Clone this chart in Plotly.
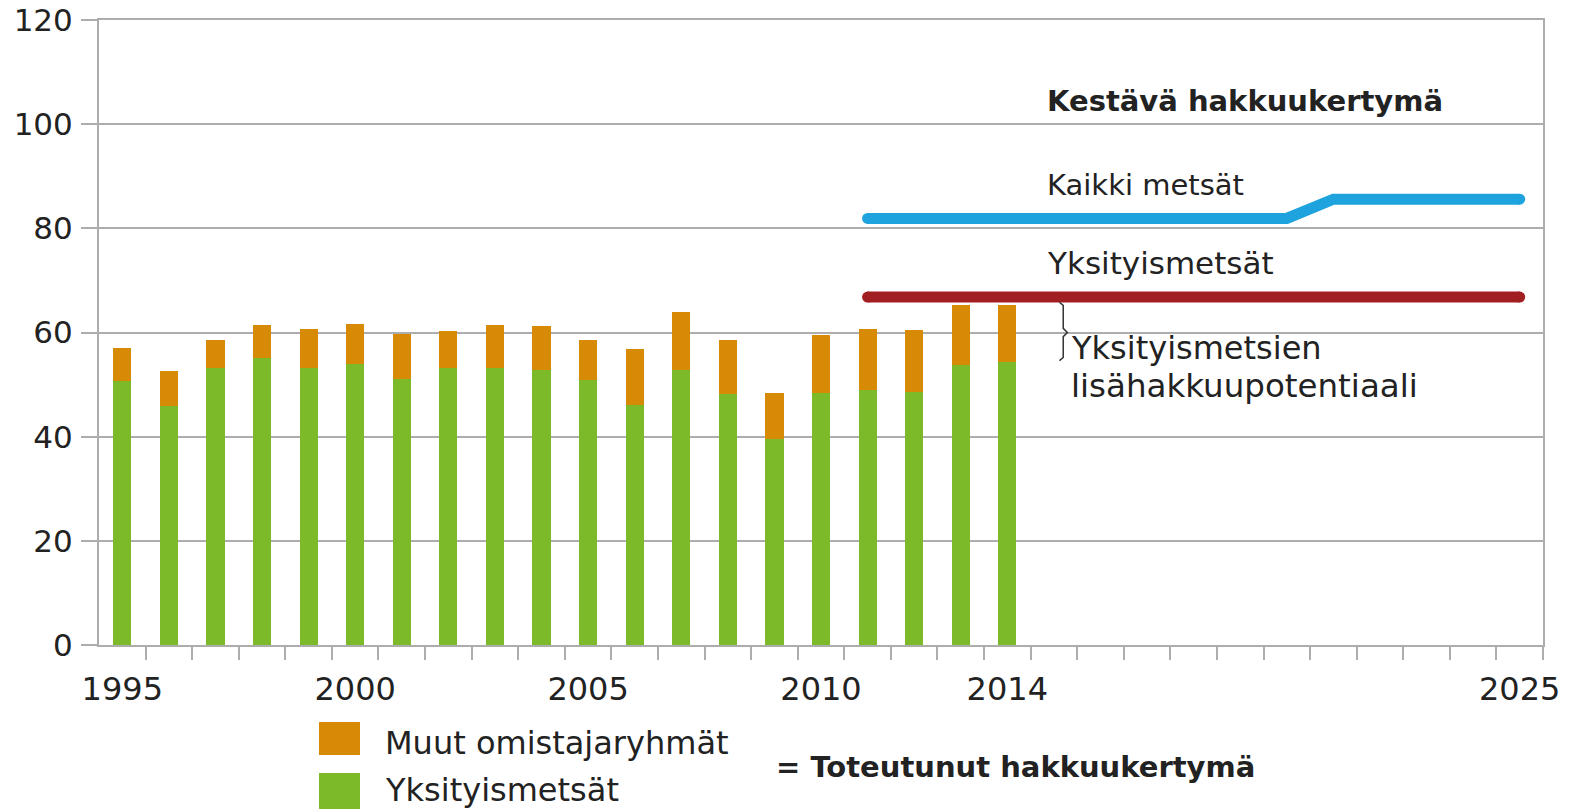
import plotly.graph_objects as go

# ---- data ----
years = list(range(1995, 2015))
yksityis = [50.7, 45.8, 53.2, 55.1, 53.2, 54.0, 51.1, 53.2, 53.2, 52.8,
            50.9, 46.0, 52.8, 48.2, 39.6, 48.3, 48.9, 48.5, 53.8, 54.4]
totals = [57.1, 52.6, 58.6, 61.4, 60.6, 61.7, 59.8, 60.2, 61.4, 61.2,
          58.6, 56.9, 63.9, 58.6, 48.3, 59.6, 60.6, 60.4, 65.2, 65.2]
muut = [round(t - g, 1) for t, g in zip(totals, yksityis)]

line_years = list(range(2011, 2026))
kaikki_kestava = [81.9] * 10 + [85.6] * 5
yksityis_kestava = [66.8] * 15

tick_vals = [1995, 2000, 2005, 2010, 2014, 2025]
tick_text = ["1995", "2000", "2005", "2010", "2014", "2025"]

GREEN = "#7CBA29"
ORANGE = "#D68A05"
BLUE = "#1EA3DE"
RED = "#A11E22"
GRID = "#ADADAD"
TXT = "#222222"
FONT = "DejaVu Sans"

W, H = 1590, 809          # window
L, R, T, B = 99, 1543, 20, 645   # plot area in window pixels
LW = 11


def px(xp):
    return (xp - L) / (R - L)


def py(yp):
    return (B - yp) / (B - T)


def cap_sizes(n):
    # round line caps: a dot only at both ends
    return [LW] + [0] * (n - 2) + [LW]


fig = go.Figure()
fig.add_trace(go.Bar(x=years, y=yksityis, name="Yksityismetsät",
                     marker=dict(color=GREEN, line=dict(width=0)), width=0.39))
fig.add_trace(go.Bar(x=years, y=muut, name="Muut omistajaryhmät",
                     marker=dict(color=ORANGE, line=dict(width=0)), width=0.39))
fig.add_trace(go.Scatter(x=line_years, y=kaikki_kestava, mode="lines+markers",
                         line=dict(color=BLUE, width=LW),
                         marker=dict(color=BLUE, opacity=1, size=cap_sizes(len(line_years)),
                                     line=dict(width=0)),
                         name="Kaikki metsät"))
fig.add_trace(go.Scatter(x=line_years, y=yksityis_kestava, mode="lines+markers",
                         line=dict(color=RED, width=LW),
                         marker=dict(color=RED, opacity=1, size=cap_sizes(len(line_years)),
                                     line=dict(width=0)),
                         name="Yksityismetsät (kestävä)"))

fig.update_layout(
    width=W, height=H,
    margin=dict(l=L, r=W - R, t=T, b=H - B, pad=0),
    barmode="stack",
    showlegend=False,
    hovermode=False,
    plot_bgcolor="white",
    paper_bgcolor="white",
    font=dict(family=FONT, color=TXT, size=28),
)

fig.update_xaxes(
    range=[1994.5, 2025.5], automargin=False,
    tickmode="array", tickvals=tick_vals, ticktext=tick_text,
    ticks="", showgrid=False,
    showline=True, linecolor=GRID, linewidth=2, mirror=True,
    tickfont=dict(size=32, family=FONT, color=TXT),
    ticklabelstandoff=15, ticklabeloverflow="allow",
    minor=dict(ticks="outside", ticklen=13, tickwidth=2, tickcolor=GRID,
               tickmode="array", tickvals=[y + 0.5 for y in range(1995, 2026)],
               showgrid=False),
    zeroline=False,
)
fig.update_yaxes(
    range=[0, 120], dtick=20, automargin=False,
    ticks="outside", ticklen=16, tickwidth=2, tickcolor=GRID,
    showgrid=True, gridcolor=GRID, gridwidth=2,
    showline=True, linecolor=GRID, linewidth=2, mirror=True,
    tickfont=dict(size=31, family=FONT, color=TXT),
    ticklabelstandoff=2, ticklabeloverflow="allow",
    zeroline=False,
)

ann = [
    dict(text="<b>Kestävä hakkuukertymä</b>", x=2014.8, y=104.5, size=29),
    dict(text="Kaikki metsät", x=2014.8, y=88.3, size=29),
    dict(text="Yksityismetsät", x=2014.8, y=73.3, size=31),
    dict(text="Yksityismetsien", x=2015.33, y=57.0, size=32),
    dict(text="lisähakkuupotentiaali", x=2015.33, y=49.7, size=32.5),
]
for a in ann:
    fig.add_annotation(text=a["text"], x=a["x"], y=a["y"], xref="x", yref="y",
                       xanchor="left", yanchor="middle", showarrow=False,
                       font=dict(size=a["size"], family=FONT, color=TXT))

# brace
bx, btop, bbot, bmid = 2015.2, 65.8, 54.6, 60.0
fig.add_shape(type="path", xref="x", yref="y",
              path=(f"M {bx-0.08},{btop} L {bx},{btop-0.6} L {bx},{bmid+0.8} L {bx+0.09},{bmid} "
                    f"L {bx},{bmid-0.8} L {bx},{bbot+0.6} L {bx-0.08},{bbot}"),
              line=dict(color="#333333", width=1.5))

# custom legend
fig.add_shape(type="rect", xref="paper", yref="paper",
              x0=px(319), x1=px(360), y0=py(755), y1=py(722),
              fillcolor=ORANGE, line=dict(width=0))
fig.add_shape(type="rect", xref="paper", yref="paper",
              x0=px(319), x1=px(360), y0=py(815), y1=py(773),
              fillcolor=GREEN, line=dict(width=0))
fig.add_annotation(text="Muut omistajaryhmät", x=px(383), y=py(743), xref="paper", yref="paper",
                   xanchor="left", yanchor="middle", showarrow=False,
                   font=dict(size=32, family=FONT, color=TXT))
fig.add_annotation(text="Yksityismetsät", x=px(383), y=py(790), xref="paper", yref="paper",
                   xanchor="left", yanchor="middle", showarrow=False,
                   font=dict(size=32, family=FONT, color=TXT))
fig.add_annotation(text="<b>= Toteutunut hakkuukertymä</b>", x=px(774), y=py(767),
                   xref="paper", yref="paper",
                   xanchor="left", yanchor="middle", showarrow=False,
                   font=dict(size=29, family=FONT, color=TXT))

fig.write_html("out.html",
               config={"displayModeBar": False},
               post_script="document.body.style.margin='0';document.body.style.overflow='hidden';")
